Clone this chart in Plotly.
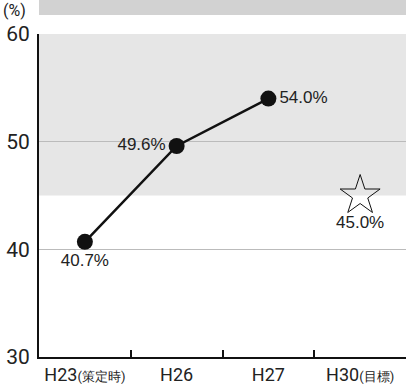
import plotly.graph_objects as go

categories = ["H23(策定時)", "H26", "H27", "H30(目標)"]
tick_text = ["H23<span style='font-size:13px'>(策定時)</span>", "H26", "H27",
             "H30<span style='font-size:13px'>(目標)</span>"]
actual_x = [0, 1, 2]
actual_values = [40.7, 49.6, 54.0]
actual_labels = ["40.7%", "49.6%", "54.0%"]
target_x = [3]
target_values = [45.0]
target_labels = ["45.0%"]
y_ticks = [30, 40, 50, 60]

FONT = "Roboto, Liberation Sans, sans-serif"

fig = go.Figure()
fig.add_trace(go.Scatter(
    x=actual_x, y=actual_values, mode="lines+markers+text",
    line=dict(color="#111", width=2.5),
    marker=dict(color="#111", size=16),
    text=actual_labels,
    textposition=["bottom center", "middle left", "middle right"],
    textfont=dict(size=17, color="#222", family="Liberation Sans"),
    cliponaxis=False, showlegend=False))
fig.add_trace(go.Scatter(
    x=target_x, y=target_values, mode="markers+text",
    marker=dict(symbol="star-open", size=30, color="#111", line=dict(width=1)),
    text=target_labels, textposition="bottom center",
    textfont=dict(size=17, color="#222", family="Liberation Sans"),
    cliponaxis=False, showlegend=False))

fig.add_shape(type="rect", xref="paper", yref="y", x0=0, x1=1, y0=45, y1=60,
              fillcolor="#e6e6e6", line_width=0, layer="below")
fig.add_shape(type="rect", xref="paper", yref="paper", x0=0, x1=1.05,
              y0=1 + 19 / 323, y1=1.2, fillcolor="#d2d2d2", line_width=0, layer="below")

fig.add_annotation(text="(%)", xref="paper", yref="paper", x=-37 / 367, y=1 + 34 / 323,
                   xanchor="left", yanchor="top", showarrow=False, borderpad=0,
                   font=dict(size=16, color="#222", family=FONT))

fig.update_layout(
    width=406, height=385,
    margin=dict(l=39, r=0, t=34, b=28),
    paper_bgcolor="white", plot_bgcolor="white",
    xaxis=dict(range=[-0.5, 3.5], tickvals=[0, 1, 2, 3], ticktext=tick_text,
               showgrid=False, zeroline=False, showline=True, linecolor="#111", linewidth=2,
               ticks="", automargin=False, ticklabelstandoff=0,
               tickfont=dict(size=18, color="#222", family=FONT),
               minor=dict(tickvals=[0.5, 1.5, 2.5], ticks="inside", ticklen=7,
                          tickcolor="#111", tickwidth=1.5, showgrid=False)),
    yaxis=dict(range=[30, 60], tickvals=y_ticks, showgrid=True, gridcolor="#bbbbbb",
               gridwidth=1, zeroline=False, showline=True, linecolor="#111", linewidth=2,
               ticks="", ticklabelstandoff=3, automargin=False,
               tickfont=dict(size=21, color="#222", family=FONT)),
)

fig.write_html("out.html", post_script="document.body.style.margin='0';",
               config={"displayModeBar": False})
